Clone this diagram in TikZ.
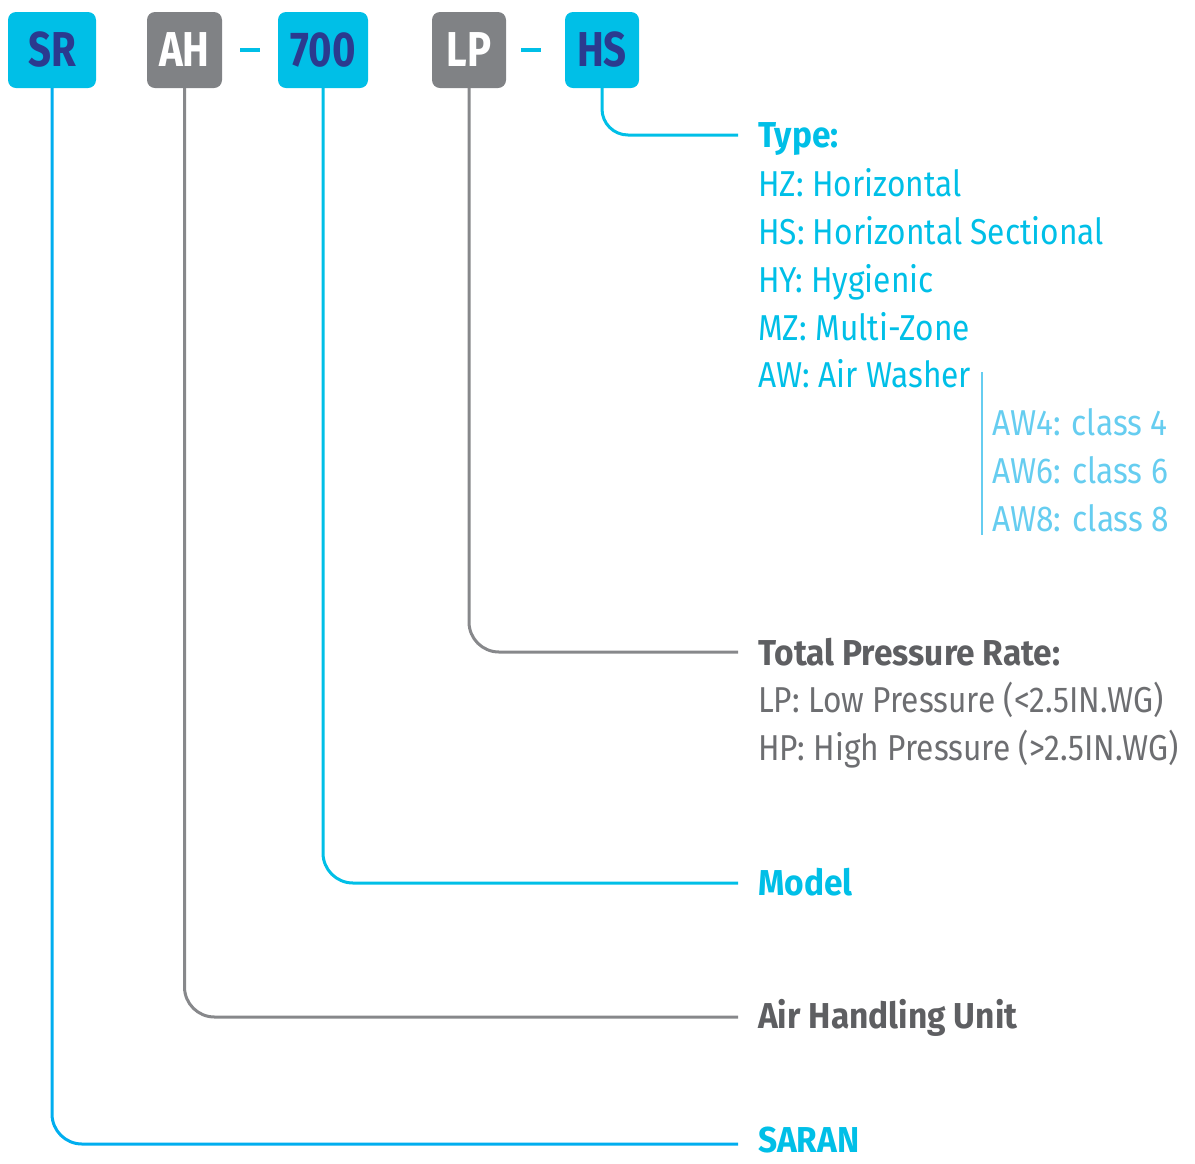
\documentclass[tikz,border=0pt]{standalone}
\usepackage{fontspec}
\setmainfont{Fira Sans}[FakeStretch=0.88, BoldFeatures={FakeStretch=0.93}]
\newfontfamily\boxfont{Fira Sans}[FakeStretch=0.82]
\definecolor{cy}{HTML}{00BFE7}
\definecolor{srblue}{HTML}{00AEEF}
\definecolor{navy}{HTML}{2B3A8F}
\definecolor{gbox}{HTML}{808285}
\definecolor{gline}{HTML}{87888B}
\definecolor{gtext}{HTML}{5E5F62}
\definecolor{gtextl}{HTML}{6D6E71}
\definecolor{lcy}{HTML}{66CDF0}
\tikzset{
  codebox/.style={rounded corners=8pt, inner sep=0pt, minimum height=76pt,
    font=\fontsize{49}{49}\boxfont\bfseries},
  cybox/.style={codebox, fill=cy, text=navy},
  grbox/.style={codebox, fill=gbox, text=white},
  lbl/.style={anchor=base west, inner sep=0pt, font=\fontsize{36}{36}\selectfont},
  blbl/.style={lbl, font=\fontsize{36}{36}\selectfont\bfseries},
  cyline/.style={draw=cy, line width=3pt, rounded corners=28pt},
  grline/.style={draw=gline, line width=3pt, rounded corners=30pt},
  dashbar/.style={draw=cy, line width=4pt}
}
\begin{document}
\begin{tikzpicture}[x=1pt,y=-1pt]
\useasboundingbox (0,0) rectangle (1195,1163);
% code boxes
\node[cybox, minimum width=88pt] (sr) at (52,50) {SR};
\node[grbox, minimum width=75pt] (ah) at (184.5,50) {AH};
\node[cybox, minimum width=90pt] (m700) at (323,50) {700};
\node[grbox, minimum width=74pt] (lpbox) at (469,50) {LP};
\node[cybox, minimum width=74pt] (hsbox) at (602,50) {HS};
% separating dashes
\coordinate (d1a) at (240,50); \coordinate (d1b) at (260,50);
\coordinate (d2a) at (521,50); \coordinate (d2b) at (541,50);
\draw[dashbar] (d1a) -- (d1b);
\draw[dashbar] (d2a) -- (d2b);
% line ends
\coordinate (hsEnd) at (738,135);
\coordinate (lpEnd) at (738,652);
\coordinate (mEnd) at (738,883);
\coordinate (ahEnd) at (738,1017);
\coordinate (srEnd) at (738,1144);
% connectors
\draw[cyline, rounded corners=26pt] (hsbox.south) |- (hsEnd);
\draw[grline] (lpbox.south) |- (lpEnd);
\draw[cyline, rounded corners=30pt] (m700.south) |- (mEnd);
\draw[grline] (ah.south) |- (ahEnd);
\draw[draw=srblue, line width=3pt, rounded corners=30pt] (sr.south) |- (srEnd);
% Type block
\node[blbl, text=cy] (type) at (758,147) {Type:};
\node[lbl, text=cy] (hz) at (758,196) {HZ: Horizontal};
\node[lbl, text=cy] (hs) at (758,244) {HS: Horizontal Sectional};
\node[lbl, text=cy] (hy) at (758,292) {HY: Hygienic};
\node[lbl, text=cy] (mz) at (758,340) {MZ: Multi-Zone};
\node[lbl, text=cy] (aw) at (758,387) {AW: Air Washer};
\coordinate (barTop) at (982,372);
\coordinate (barBot) at (982,535);
\draw[draw=lcy, line width=1.5pt] (barTop) -- (barBot);
\node[lbl, text=lcy] (aw4) at (992,435) {AW4: class 4};
\node[lbl, text=lcy] (aw6) at (992,483) {AW6: class 6};
\node[lbl, text=lcy] (aw8) at (992,531) {AW8: class 8};
% Pressure block
\node[blbl, text=gtext] (tpr) at (758,665) {Total Pressure Rate:};
\node[lbl, text=gtextl] (lp) at (758,712) {LP: Low Pressure (<2.5IN.WG)};
\node[lbl, text=gtextl] (hp) at (758,760) {HP: High Pressure (>2.5IN.WG)};
% others
\node[blbl, text=cy] (model) at (758,895) {Model};
\node[blbl, text=gtext] (ahu) at (758,1028) {Air Handling Unit};
\node[blbl, text=cy] (saran) at (758,1152) {SARAN};
\end{tikzpicture}
\end{document}
